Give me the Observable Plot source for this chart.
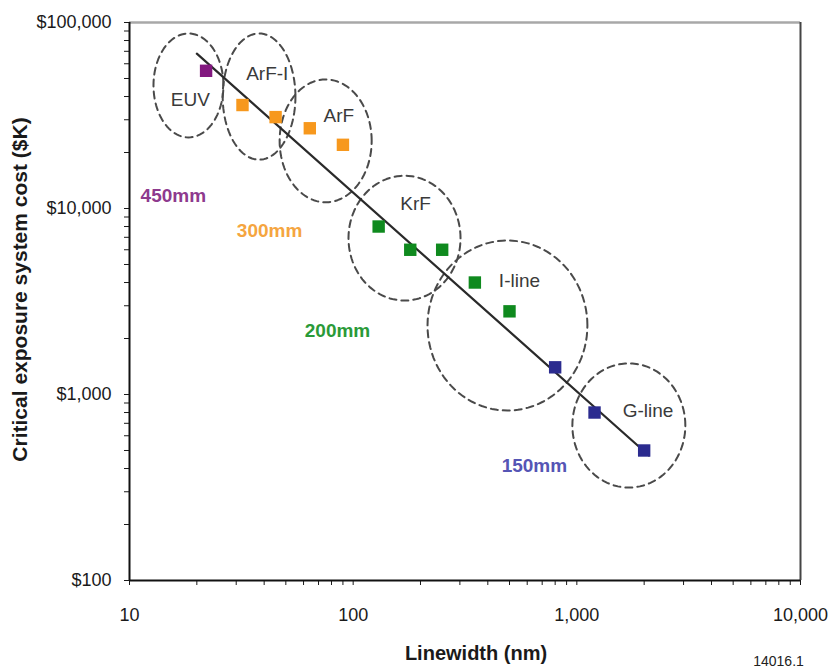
<!DOCTYPE html>
<html>
<head>
<meta charset="utf-8">
<script src="https://cdn.jsdelivr.net/npm/d3@7"></script>
<script src="https://cdn.jsdelivr.net/npm/@observablehq/plot@0.6"></script>
<style>
  html, body { margin: 0; padding: 0; background: #fff; }
  #chart svg { display: block; }
</style>
</head>
<body>
<div id="chart"></div>
<script>
// ---- Data ----
const linewidth = [22, 32, 45, 64, 90, 130, 180, 250, 350, 500, 800, 1200, 2000];
const cost      = [55000, 36000, 31000, 27000, 22000, 8000, 6000, 6000, 4000, 2800, 1400, 800, 500];
const wafer     = ["450mm", "300mm", "300mm", "300mm", "300mm", "200mm", "200mm", "200mm", "200mm", "200mm", "150mm", "150mm", "150mm"];

const fitX = [20, 2100];
const fitY = [68000, 470];

const regionName = ["EUV", "ArF-I", "ArF", "KrF", "I-line", "G-line"];
const regionXMin = [12.8, 26.1, 46.9, 95.3, 215, 955];
const regionXMax = [26.3, 55.2, 121, 302, 1115, 3056];
const regionYMin = [24100, 18300, 10800, 3200, 820, 316];
const regionYMax = [87300, 87300, 49400, 15000, 6730, 1470];
const regionLabelX = [18.7, 41.3, 86.3, 190, 554, 2080];
const regionLabelY = [38300, 53000, 31600, 10600, 4100, 820];

const waferName = ["450mm", "300mm", "200mm", "150mm"];
const waferLabelX = [15.7, 42.3, 85.1, 646];
const waferLabelY = [11700, 7620, 2210, 415];

const xTicks = [10, 20, 30, 40, 50, 60, 70, 80, 90, 100, 200, 300, 400, 500, 600, 700, 800, 900,
                1000, 2000, 3000, 4000, 5000, 6000, 7000, 8000, 9000, 10000];
const yTicks = [100, 200, 300, 400, 500, 600, 700, 800, 900, 1000, 2000, 3000, 4000, 5000, 6000, 7000, 8000, 9000,
                10000, 20000, 30000, 40000, 50000, 60000, 70000, 80000, 90000, 100000];
const xLabeled = [10, 100, 1000, 10000];
const yLabeled = [100, 1000, 10000, 100000];

// ---- Derived tables ----
const markerColor = {"450mm": "#82187f", "300mm": "#f7981d", "200mm": "#0f8a1e", "150mm": "#2b2b8f"};
const waferTextColor = {"450mm": "#8e3a8e", "300mm": "#f5a540", "200mm": "#2a9a38", "150mm": "#5555b5"};

const points = linewidth.map((x, i) => ({x, y: cost[i], wafer: wafer[i]}));
const fit = fitX.map((x, i) => ({x, y: fitY[i]}));
const regionLabels = regionName.map((name, i) => ({name, x: regionLabelX[i], y: regionLabelY[i]}));
const waferLabels = waferName.map((name, i) => ({name, x: waferLabelX[i], y: waferLabelY[i]}));

// Dashed ellipse outlines built from each region's extent (in log space)
const ellipse = [];
regionName.forEach((name, i) => {
  const lx0 = Math.log10(regionXMin[i]), lx1 = Math.log10(regionXMax[i]);
  const ly0 = Math.log10(regionYMin[i]), ly1 = Math.log10(regionYMax[i]);
  const cx = (lx0 + lx1) / 2, cy = (ly0 + ly1) / 2, rx = (lx1 - lx0) / 2, ry = (ly1 - ly0) / 2;
  for (let k = 0; k < 96; k++) {
    const t = (k / 96) * 2 * Math.PI;
    ellipse.push({name, x: Math.pow(10, cx + rx * Math.cos(t)), y: Math.pow(10, cy + ry * Math.sin(t))});
  }
});

const fmt = d3.format(",");

const chart = Plot.plot({
  width: 835,
  height: 672,
  marginTop: 22,
  marginBottom: 92,
  marginLeft: 129,
  marginRight: 35,
  style: {fontFamily: "'Liberation Sans', Arial, sans-serif", fontSize: "18px", color: "#1a1a1a", background: "#fff"},
  x: {type: "log", domain: [10, 10000]},
  y: {type: "log", domain: [100, 100000]},
  marks: [
    // frame borders
    Plot.ruleY([100000], {stroke: "#a8a8a8", strokeWidth: 2.5}),
    Plot.ruleX([10000], {stroke: "#444", strokeWidth: 2}),
    // ellipses
    Plot.line(ellipse, {x: "x", y: "y", z: "name", curve: "linear-closed", stroke: "#4a4a4a", strokeWidth: 2, strokeDasharray: "7,5"}),
    // fit line
    Plot.line(fit, {x: "x", y: "y", stroke: "#2a2a2a", strokeWidth: 2.2}),
    // markers
    Plot.dot(points, {x: "x", y: "y", symbol: "square", r: 7, fill: d => markerColor[d.wafer], stroke: "none"}),
    // region labels
    Plot.text(regionLabels, {x: "x", y: "y", text: "name", fill: "#3a3a3a", fontSize: 19}),
    // wafer size labels
    Plot.text(waferLabels, {x: "x", y: "y", text: "name", fill: d => waferTextColor[d.name], fontSize: 19, fontWeight: "bold"}),
    // axes
    Plot.axisX({ticks: xTicks, tickFormat: d => xLabeled.includes(d) ? fmt(d) : "", tickSize: 5, tickPadding: 23, label: null, fontSize: 18}),
    Plot.axisY({ticks: yTicks, tickFormat: d => yLabeled.includes(d) ? "$" + fmt(d) : "", tickSize: 5, tickPadding: 13, label: null, fontSize: 18}),
    Plot.ruleY([100], {stroke: "#111", strokeWidth: 2}),
    Plot.ruleX([10], {stroke: "#111", strokeWidth: 2}),
    // axis titles
    Plot.text(["Linewidth (nm)"], {frameAnchor: "bottom", textAnchor: "middle", dx: 11, dy: 65, lineAnchor: "top", fontSize: 20, fontWeight: "bold", fill: "#1a1a1a"}),
    Plot.text(["Critical exposure system cost ($K)"], {frameAnchor: "left", textAnchor: "middle", lineAnchor: "middle", dx: -109, dy: -12, rotate: -90, fontSize: 21, fontWeight: "bold", fill: "#1a1a1a"}),
    Plot.text(["14016.1"], {frameAnchor: "bottom-right", textAnchor: "middle", dx: -22, dy: 81, lineAnchor: "middle", fontSize: 14, fill: "#222"})
  ]
});

document.getElementById("chart").appendChild(chart);
</script>
</body>
</html>
